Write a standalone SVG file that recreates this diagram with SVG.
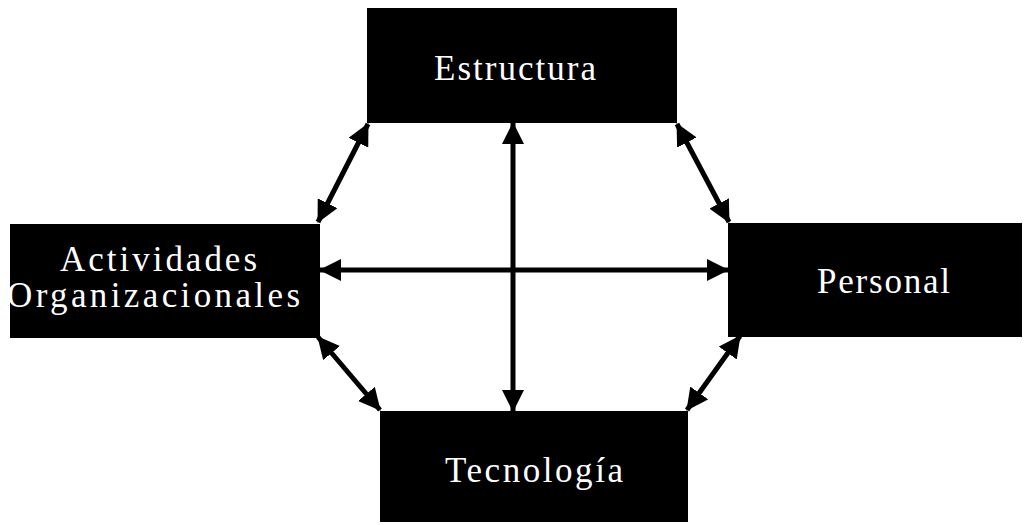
<svg xmlns="http://www.w3.org/2000/svg" width="1032" height="525" viewBox="0 0 1032 525">
<defs>
<style>
.box{fill:#000;}
.lbl{font-family:"Liberation Serif","Times New Roman",serif;fill:#fff;font-size:35px;}
.conn line{stroke:#000;stroke-width:5;marker-start:url(#ah);marker-end:url(#ah);}
</style>
<marker id="ah" viewBox="0 0 22 22" refX="21" refY="11" markerWidth="22" markerHeight="22" markerUnits="userSpaceOnUse" orient="auto-start-reverse">
<path d="M0,0 L22,11 L0,22 z" fill="#000"/>
</marker>
</defs>
<rect width="1032" height="525" fill="#fff"/>
<g id="estructura">
<rect class="box" x="367" y="8" width="310" height="115"/>
<text class="lbl" x="434" y="80" textLength="162" lengthAdjust="spacing">Estructura</text>
</g>
<g id="actividades">
<rect class="box" x="10" y="224" width="310" height="114"/>
<text class="lbl" x="60" y="271" font-size="30" textLength="197" lengthAdjust="spacing">Actividades</text>
<text class="lbl" x="7" y="307" font-size="30" textLength="293" lengthAdjust="spacing">Organizacionales</text>
</g>
<g id="personal">
<rect class="box" x="728" y="223" width="294" height="114"/>
<text class="lbl" x="817" y="293" font-size="33" textLength="133" lengthAdjust="spacing">Personal</text>
</g>
<g id="tecnologia">
<rect class="box" x="380" y="411" width="308" height="111"/>
<text class="lbl" x="445" y="482" font-size="34" textLength="178" lengthAdjust="spacing">Tecnología</text>
</g>
<g class="conn" id="connectors">
<line x1="513" y1="123" x2="513" y2="411"/>
<line x1="320" y1="270" x2="728" y2="270"/>
<line x1="368" y1="124" x2="318" y2="222"/>
<line x1="677" y1="124" x2="729" y2="222"/>
<line x1="318" y1="337" x2="380" y2="410"/>
<line x1="740" y1="336" x2="687" y2="410"/>
</g>
</svg>
